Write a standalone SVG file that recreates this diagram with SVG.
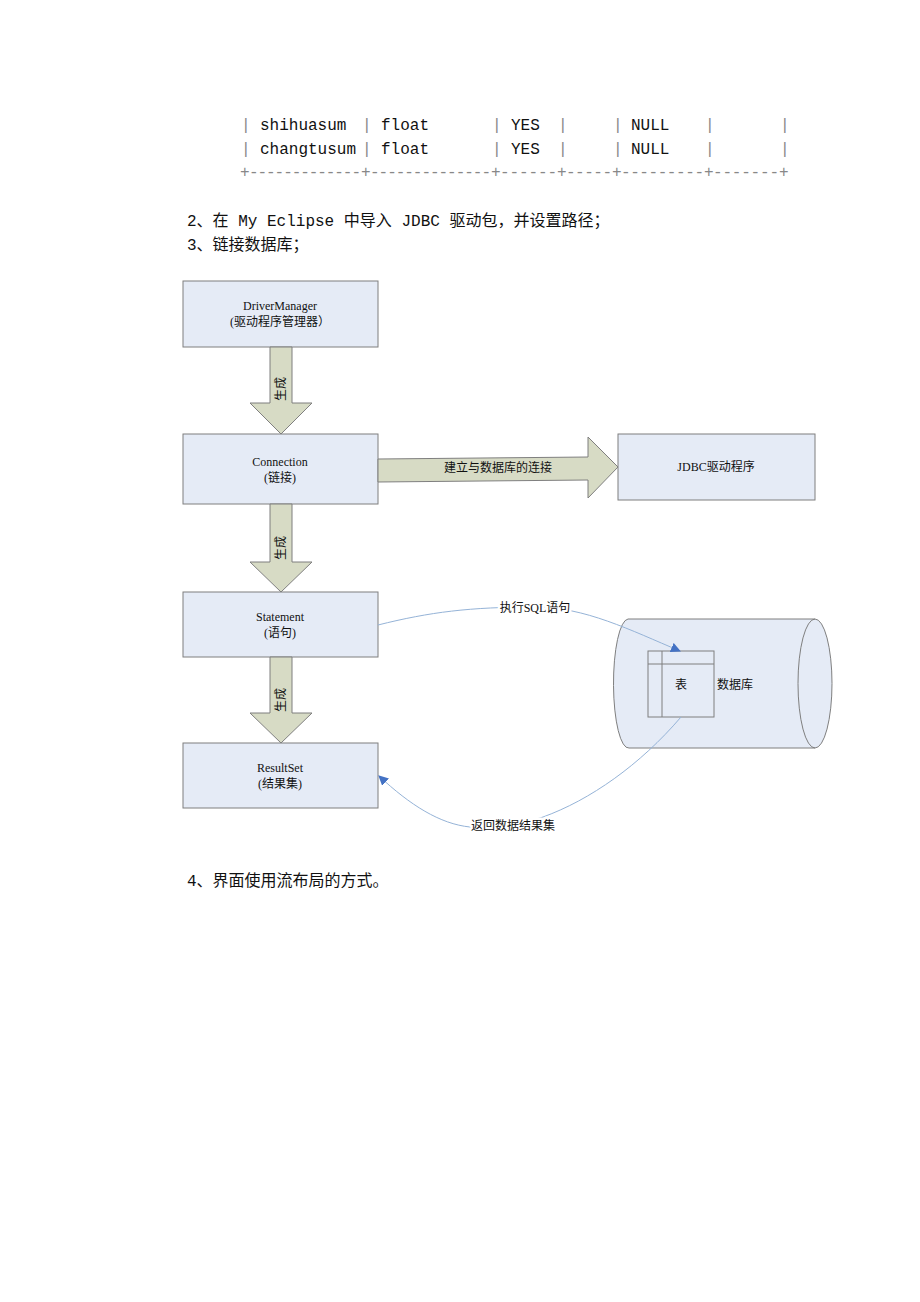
<svg xmlns="http://www.w3.org/2000/svg" width="920" height="1302" viewBox="0 0 920 1302">
<defs>
<style>
.doc{font-family:"Liberation Mono","Noto Sans CJK SC",monospace;font-size:16px;fill:#111}
.pipe{font-family:"Liberation Mono",monospace;font-size:16px;fill:#888}
.lbl{font-family:"Liberation Serif","Noto Sans CJK SC",serif;font-size:12px;fill:#111;text-anchor:middle}
.box{fill:#e5ebf6;stroke:#7f7f7f;stroke-width:1}
.arr{fill:#d7dbc5;stroke:#7f7f7f;stroke-width:1}
.con{fill:none;stroke:#95b3d7;stroke-width:1}
.halo{paint-order:stroke;stroke:#fff;stroke-width:5px;stroke-linejoin:round}
</style>
<marker id="ah" viewBox="0 0 10 10" refX="9" refY="5" markerWidth="10" markerHeight="10" markerUnits="userSpaceOnUse" orient="auto">
<path d="M0,0 L10,5 L0,10 Z" fill="#4472c4"/>
</marker>
</defs>
<rect width="920" height="1302" fill="#fff"/>

<g id="table-text">
<text class="pipe" x="241" y="130">|</text>
<text class="doc" x="260" y="130">shihuasum</text>
<text class="pipe" x="362" y="130">|</text>
<text class="doc" x="381" y="130">float</text>
<text class="pipe" x="492" y="130">|</text>
<text class="doc" x="511" y="130">YES</text>
<text class="pipe" x="558" y="130">|</text>
<text class="pipe" x="613" y="130">|</text>
<text class="doc" x="631" y="130">NULL</text>
<text class="pipe" x="705" y="130">|</text>
<text class="pipe" x="780" y="130">|</text>

<text class="pipe" x="241" y="154">|</text>
<text class="doc" x="260" y="154">changtusum</text>
<text class="pipe" x="362" y="154">|</text>
<text class="doc" x="381" y="154">float</text>
<text class="pipe" x="492" y="154">|</text>
<text class="doc" x="511" y="154">YES</text>
<text class="pipe" x="558" y="154">|</text>
<text class="pipe" x="613" y="154">|</text>
<text class="doc" x="631" y="154">NULL</text>
<text class="pipe" x="705" y="154">|</text>
<text class="pipe" x="780" y="154">|</text>

<text class="pipe" x="240" y="177">+</text>
<text class="pipe" x="249" y="177" textLength="112" lengthAdjust="spacing">-------------</text>
<text class="pipe" x="361" y="177">+</text>
<text class="pipe" x="370" y="177" textLength="121" lengthAdjust="spacing">--------------</text>
<text class="pipe" x="491" y="177">+</text>
<text class="pipe" x="500" y="177" textLength="57" lengthAdjust="spacing">------</text>
<text class="pipe" x="557" y="177">+</text>
<text class="pipe" x="566" y="177" textLength="46" lengthAdjust="spacing">-----</text>
<text class="pipe" x="612" y="177">+</text>
<text class="pipe" x="621" y="177" textLength="83" lengthAdjust="spacing">---------</text>
<text class="pipe" x="704" y="177">+</text>
<text class="pipe" x="713" y="177" textLength="66" lengthAdjust="spacing">-------</text>
<text class="pipe" x="779" y="177">+</text>
</g>

<g id="para">
<text class="doc" x="187" y="226">2、在 My Eclipse 中导入 JDBC 驱动包，并设置路径；</text>
<text class="doc" x="187" y="250">3、链接数据库；</text>
<text class="doc" x="187" y="886">4、界面使用流布局的方式。</text>
</g>

<g id="driver-manager">
<rect class="box" x="183" y="281" width="195" height="66"/>
<text class="lbl" x="280" y="310">DriverManager</text>
<text class="lbl" x="280" y="326">(驱动程序管理器）</text>
</g>

<g id="connection">
<rect class="box" x="183" y="434" width="195" height="70"/>
<text class="lbl" x="280" y="466">Connection</text>
<text class="lbl" x="280" y="482">(链接)</text>
</g>

<g id="jdbc-driver">
<rect class="box" x="618" y="434" width="197" height="66"/>
<text class="lbl" x="716" y="471">JDBC驱动程序</text>
</g>

<g id="statement">
<rect class="box" x="183" y="592" width="195" height="65"/>
<text class="lbl" x="280" y="621">Statement</text>
<text class="lbl" x="280" y="637">(语句)</text>
</g>

<g id="resultset">
<rect class="box" x="183" y="743" width="195" height="65"/>
<text class="lbl" x="280" y="772">ResultSet</text>
<text class="lbl" x="280" y="788">(结果集)</text>
</g>

<g id="database">
<path class="box" d="M628,619 L815,619 A17,64.5 0 0 1 815,748 L629,748 A15,64.5 0 0 1 628,619 Z"/>
<path fill="none" stroke="#7f7f7f" d="M815,748 A17,64.5 0 0 1 815,619"/>
<rect x="648" y="651" width="66" height="66" fill="#e5ebf6" stroke="#7f7f7f"/>
<line x1="662" y1="651" x2="662" y2="717" stroke="#7f7f7f"/>
<line x1="648" y1="664" x2="714" y2="664" stroke="#7f7f7f"/>
<text class="lbl" x="681" y="689">表</text>
<text class="lbl" x="735" y="689">数据库</text>
</g>

<g id="connectors">
<path class="arr" d="M270,347 L292,347 L292,403 L312,403 L281,434 L250,403 L270,403 Z"/>
<text class="lbl" transform="translate(285,389) rotate(-90)">生成</text>
<path class="arr" d="M270,504 L292,504 L292,562 L312,562 L281,592 L250,562 L270,562 Z"/>
<text class="lbl" transform="translate(285,548) rotate(-90)">生成</text>
<path class="arr" d="M270,657 L292,657 L292,713 L312,713 L281,743 L250,713 L270,713 Z"/>
<text class="lbl" transform="translate(285,700) rotate(-90)">生成</text>
<path class="arr" d="M378,459 L588,457 L588,437 L618,467 L588,498 L588,480 L378,482 Z"/>
<text class="lbl" x="498" y="472">建立与数据库的连接</text>

<path class="con" marker-end="url(#ah)" d="M378,625 C430,612 470,607 535,607 C585,607 630,630 680,651"/>
<text class="lbl halo" x="535" y="612">执行SQL语句</text>
<path class="con" marker-end="url(#ah)" d="M681,717 C640,765 590,800 543,817 C520,825 490,828 470,827 C440,824 410,805 379,776"/>
<text class="lbl halo" x="513" y="830">返回数据结果集</text>
</g>
</svg>
